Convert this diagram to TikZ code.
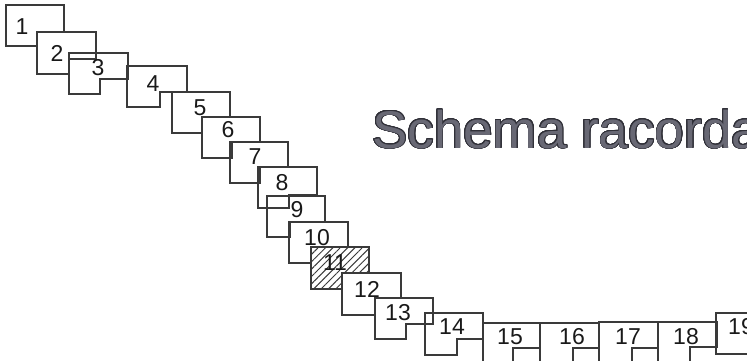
\documentclass[tikz,border=0pt]{standalone}
\usepackage{fontspec}
\setmainfont{Liberation Sans}
\usepackage{tikz}
\usepackage{contour}
\usetikzlibrary{patterns.meta}
\definecolor{SheetLine}{RGB}{58,58,58}
\definecolor{TitleGray}{RGB}{104,104,116}
\definecolor{TitleEdge}{RGB}{48,48,56}
\contourlength{0.9pt}
\contournumber{24}
\tikzset{
  sheet/.style={draw=SheetLine, line width=1.1pt},
  num/.style={inner sep=0pt, text=black!90, font=\fontsize{23}{25}\selectfont},
}
\begin{document}
\begin{tikzpicture}[x=1pt, y=-1pt]
  \useasboundingbox (0,0) rectangle (747,360);
  \clip (0,0) rectangle (747,360);

  % foaia 11 hasurata
  \fill[pattern={Lines[angle=45,distance=5.2pt,line width=1pt]}, pattern color=SheetLine]
    (311,247) -| (369,273) -| (342,289) -- (311,289) -- cycle;

  % foile pe diagonala
  \draw[sheet] (6,5) -| (64,32) -| (37,46) -- (6,46) -- cycle;
  \draw[sheet] (37,32) -| (96,59) -| (69,74) -- (37,74) -- cycle;
  \draw[sheet] (69,53) -| (128,79) -| (100,94) -- (69,94) -- cycle;
  \draw[sheet] (127,66) -| (187,92) -| (160,107) -- (127,107) -- cycle;
  \draw[sheet] (172,92) -| (230,117) -| (202,133) -- (172,133) -- cycle;
  \draw[sheet] (202,117) -| (260,142) -| (232,158) -- (202,158) -- cycle;
  \draw[sheet] (230,142) -| (288,167) -| (260,183) -- (230,183) -- cycle;
  \draw[sheet] (258,167) -| (317,195) -| (289,208) -- (258,208) -- cycle;
  \draw[sheet] (267,196) -| (325,222) -| (290,237) -- (267,237) -- cycle;
  \draw[sheet] (289,222) -| (348,247) -| (311,263) -- (289,263) -- cycle;
  \draw[sheet] (311,247) -| (369,273) -| (342,289) -- (311,289) -- cycle;
  \draw[sheet] (342,273) -| (401,298) -| (375,315) -- (342,315) -- cycle;
  \draw[sheet] (375,298) -| (433,324) -| (406,339) -- (375,339) -- cycle;
  \draw[sheet] (425,313) -| (483,339) -| (457,355) -- (425,355) -- cycle;

  % foile pe orizontala
  \draw[sheet] (483,323) -| (540,348) -| (513,380) -- (483,380) -- cycle;
  \draw[sheet] (540,323) -| (599,348) -| (573,380) -- (540,380) -- cycle;
  \draw[sheet] (599,322) -| (658,348) -| (632,380) -- (599,380) -- cycle;
  \draw[sheet] (658,322) -| (717,347) -| (690,380) -- (658,380) -- cycle;
  \draw[sheet] (716,313) -| (775,339) -| (750,354) -- (716,354) -- cycle;

  % numerele foilor
  \node[num] (n1) at (22,27) {1};
  \node[num] (n2) at (57,53) {2};
  \node[num] (n3) at (98,68) {3};
  \node[num] (n4) at (153,84) {4};
  \node[num] (n5) at (200,108) {5};
  \node[num] (n6) at (228,130) {6};
  \node[num] (n7) at (255,157) {7};
  \node[num] (n8) at (282,183) {8};
  \node[num] (n9) at (297,210) {9};
  \node[num] (n10) at (317,238) {10};
  \node[num] (n11) at (335,263) {11};
  \node[num] (n12) at (367,289) {12};
  \node[num] (n13) at (398,313) {13};
  \node[num] (n14) at (452,327) {14};
  \node[num] (n15) at (510,337) {15};
  \node[num] (n16) at (572,337) {16};
  \node[num] (n17) at (628,337) {17};
  \node[num] (n18) at (686,337) {18};
  \node[num] (n19) at (741,327) {19};

  % titlu
  \node[inner sep=0pt, anchor=base west, font=\fontsize{53}{60}\selectfont]
    (titlu) at (372,148) {\contour{TitleEdge}{\textcolor{TitleGray}{Schema racordare}}};
\end{tikzpicture}
\end{document}
